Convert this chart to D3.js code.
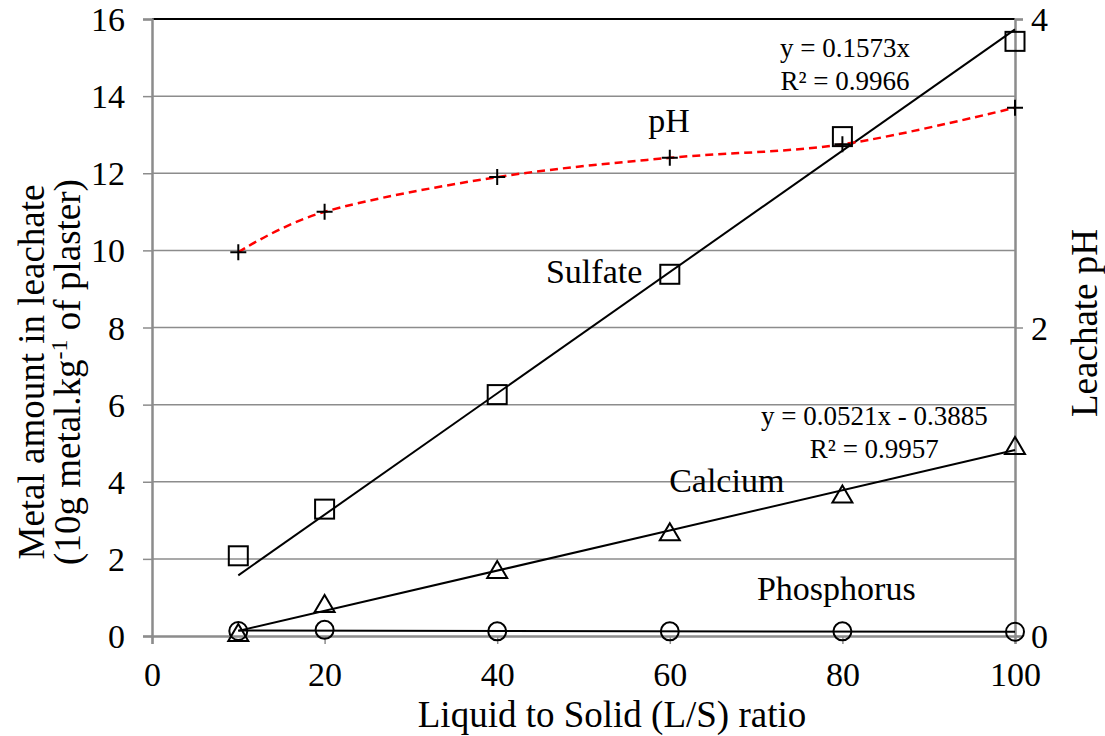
<!DOCTYPE html>
<html>
<head>
<meta charset="utf-8">
<script src="https://cdn.jsdelivr.net/npm/d3@7"></script>
<style>
  html, body { margin: 0; padding: 0; background: #fff; }
  svg text { font-family: "Liberation Serif", "Times New Roman", serif; fill: #000; }
</style>
</head>
<body>
<svg id="chart" width="1105" height="736"></svg>
<script>
// Leaching results against liquid-to-solid ratio
const lsRatio    = [10, 20, 40, 60, 80, 100];
const sulfate    = [2.08, 3.29, 6.26, 9.38, 12.95, 15.42];
const calcium    = [0.08, 0.83, 1.71, 2.69, 3.67, 4.93];
const phosphorus = [0.13, 0.16, 0.12, 0.12, 0.12, 0.11];
const leachatePH = [9.95, 11.0, 11.9, 12.4, 12.75, 13.7];

const xTicks      = [0, 20, 40, 60, 80, 100];
const yTicks      = [0, 2, 4, 6, 8, 10, 12, 14, 16];
const yRightTicks = [0, 2, 4];

// Linear fits reported on the chart
const sulfateFit = { slope: 0.1573, intercept: 0, r2: 0.9966 };
const calciumFit = { slope: 0.0521, intercept: -0.3885, r2: 0.9957 };

const svg = d3.select("#chart");
const plot = { left: 152, right: 1015, top: 19, bottom: 636 };

const x  = d3.scaleLinear().domain([0, 100]).range([plot.left, plot.right]);
const y  = d3.scaleLinear().domain([0, 16]).range([plot.bottom, plot.top]);
const yR = d3.scaleLinear().domain([0, 4]).range([plot.bottom, plot.top]);

const grey = "#8c8c8c";
const tickFont = "34px";
const titleFont = "37px";

// horizontal gridlines
svg.append("g")
  .selectAll("line")
  .data(yTicks.filter(v => v > 0 && v < 16))
  .join("line")
  .attr("x1", plot.left).attr("x2", plot.right)
  .attr("y1", d => y(d)).attr("y2", d => y(d))
  .attr("stroke", grey).attr("stroke-width", 1.5);

// top border
svg.append("line")
  .attr("x1", plot.left).attr("x2", plot.right)
  .attr("y1", plot.top).attr("y2", plot.top)
  .attr("stroke", "#000").attr("stroke-width", 2);

// left axis
const yAxis = svg.append("g")
  .attr("transform", `translate(${plot.left},0)`)
  .call(d3.axisLeft(y).tickValues(yTicks).tickSize(9).tickPadding(18).tickFormat(d3.format("d")));
yAxis.select(".domain").attr("stroke", grey).attr("stroke-width", 2.5);
yAxis.selectAll(".tick line").attr("stroke", grey).attr("stroke-width", 1.5);
yAxis.selectAll(".tick text").style("font-size", tickFont).attr("dy", "0.34em");

// right axis
const yAxisR = svg.append("g")
  .attr("transform", `translate(${plot.right},0)`)
  .call(d3.axisRight(yR).tickValues(yRightTicks).tickSize(8).tickPadding(8).tickFormat(d3.format("d")));
yAxisR.select(".domain").attr("stroke", grey).attr("stroke-width", 2.5);
yAxisR.selectAll(".tick line").attr("stroke", grey).attr("stroke-width", 1.5);
yAxisR.selectAll(".tick text").style("font-size", tickFont).attr("dy", "0.34em");

// bottom axis
const xAxis = svg.append("g")
  .attr("transform", `translate(0,${plot.bottom})`)
  .call(d3.axisBottom(x).tickValues(xTicks).tickSize(8).tickPadding(18).tickFormat(d3.format("d")));
xAxis.select(".domain").attr("stroke", grey).attr("stroke-width", 2.5);
xAxis.selectAll(".tick line").attr("stroke", grey).attr("stroke-width", 1.5);
xAxis.selectAll(".tick text").style("font-size", tickFont);

// axis titles
svg.append("text")
  .attr("x", 612).attr("y", 727)
  .attr("text-anchor", "middle").style("font-size", titleFont)
  .text("Liquid to Solid (L/S) ratio");

const leftTitle = svg.append("text")
  .attr("transform", "translate(0,372) rotate(-90)")
  .attr("text-anchor", "middle").style("font-size", titleFont);
leftTitle.append("tspan").attr("x", 0).attr("y", 44).text("Metal amount in leachate");
const line2 = leftTitle.append("tspan").attr("x", 0).attr("y", 80);
line2.append("tspan").text("(10g metal.kg");
line2.append("tspan").attr("dy", -13).style("font-size", "24px").text("-1");
line2.append("tspan").attr("dy", 13).text(" of plaster)");

svg.append("text")
  .attr("transform", "translate(1097,323) rotate(-90)")
  .attr("text-anchor", "middle").style("font-size", titleFont)
  .text("Leachate pH");

// trendlines
const xFit = [10, 100];
const fitLine = d3.line().x(d => x(d[0])).y(d => y(d[1]));

svg.append("path")
  .datum(xFit.map(v => [v, sulfateFit.slope * v + sulfateFit.intercept]))
  .attr("d", fitLine).attr("fill", "none").attr("stroke", "#000").attr("stroke-width", 2);

svg.append("path")
  .datum(xFit.map(v => [v, calciumFit.slope * v + calciumFit.intercept]))
  .attr("d", fitLine).attr("fill", "none").attr("stroke", "#000").attr("stroke-width", 2);

// least-squares line for phosphorus
const mx = d3.mean(lsRatio), my = d3.mean(phosphorus);
const pSlope = d3.sum(lsRatio, (v, i) => (v - mx) * (phosphorus[i] - my)) /
               d3.sum(lsRatio, v => (v - mx) * (v - mx));
const pIntercept = my - pSlope * mx;
svg.append("path")
  .datum(xFit.map(v => [v, pSlope * v + pIntercept]))
  .attr("d", fitLine).attr("fill", "none").attr("stroke", "#000").attr("stroke-width", 2);

// pH smoothed dashed curve
svg.append("path")
  .datum(lsRatio.map((v, i) => [v, leachatePH[i]]))
  .attr("d", d3.line().x(d => x(d[0])).y(d => y(d[1])).curve(d3.curveCardinal.tension(0)))
  .attr("fill", "none").attr("stroke", "#ff0000").attr("stroke-width", 2.5)
  .attr("stroke-dasharray", "8,5");

// markers
function styled(sel) {
  return sel.attr("stroke", "#000").attr("stroke-width", 2).attr("fill", "none");
}

styled(svg.append("g").selectAll("rect")
  .data(lsRatio.map((v, i) => [v, sulfate[i]]))
  .join("rect")
  .attr("x", d => x(d[0]) - 9.5).attr("y", d => y(d[1]) - 9.5)
  .attr("width", 19).attr("height", 19));

styled(svg.append("g").selectAll("path")
  .data(lsRatio.map((v, i) => [v, calcium[i]]))
  .join("path")
  .attr("d", d => {
    const cx = x(d[0]), cy = y(d[1]);
    return `M${cx},${cy - 9}L${cx + 10},${cy + 8}L${cx - 10},${cy + 8}Z`;
  }));

styled(svg.append("g").selectAll("circle")
  .data(lsRatio.map((v, i) => [v, phosphorus[i]]))
  .join("circle")
  .attr("cx", d => x(d[0])).attr("cy", d => y(d[1])).attr("r", 9));

styled(svg.append("g").selectAll("path")
  .data(lsRatio.map((v, i) => [v, leachatePH[i]]))
  .join("path")
  .attr("d", d => {
    const cx = x(d[0]), cy = y(d[1]);
    return `M${cx - 8},${cy}H${cx + 8}M${cx},${cy - 8}V${cy + 8}`;
  }));

// series labels and fit equations
const label = (xv, yv, txt, size, anchor = "start") =>
  svg.append("text").attr("x", x(xv)).attr("y", y(yv))
    .attr("text-anchor", anchor).style("font-size", size + "px").text(txt);

label(59.9, 13.07, "pH", 34, "middle");
label(45.65, 9.15, "Sulfate", 34);
label(66.6, 3.73, "Calcium", 34, "middle");
label(70.1, 0.93, "Phosphorus", 34);

label(80.3, 15.02, `y = ${sulfateFit.slope}x`, 27, "middle");
label(80.3, 14.16, `R² = ${sulfateFit.r2}`, 27, "middle");
label(83.7, 5.47, `y = ${calciumFit.slope}x - ${Math.abs(calciumFit.intercept)}`, 27, "middle");
label(83.7, 4.62, `R² = ${calciumFit.r2}`, 27, "middle");
</script>
</body>
</html>
